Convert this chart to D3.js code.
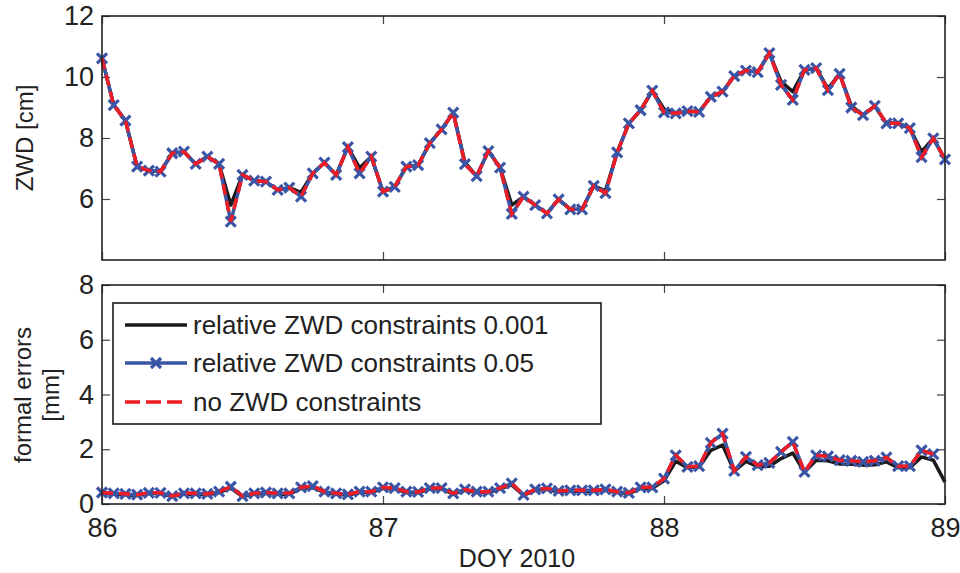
<!DOCTYPE html>
<html>
<head>
<meta charset="utf-8">
<script src="https://cdn.jsdelivr.net/npm/d3@7"></script>
<style>
  body { margin: 0; background: #fff; }
  text { font-family: "Liberation Sans", Arial, sans-serif; fill: #222; }
</style>
</head>
<body>
<script>
var w = 960;
var h = 573;
var svg;

// hourly epochs, DOY 86.0 .. 89.0
var hours = d3.range(0, 73);

// ZWD [cm]
var zwd001 = [10.61, 9.08, 8.57, 7.06, 6.93, 6.90, 7.50, 7.55, 7.15, 7.39,
              7.15, 5.80, 6.79, 6.60, 6.57, 6.30, 6.37, 6.22, 6.84, 7.19,
              6.79, 7.70, 7.02, 7.39, 6.24, 6.40, 7.06, 7.11, 7.83, 8.28,
              8.83, 7.20, 6.75, 7.57, 7.03, 5.80, 6.08, 5.80, 5.53, 5.99,
              5.66, 5.66, 6.43, 6.27, 7.53, 8.48, 8.91, 9.55, 8.95, 8.81,
              8.88, 8.86, 9.35, 9.52, 10.03, 10.21, 10.16, 10.78, 9.85, 9.52,
              10.23, 10.29, 9.62, 10.10, 9.05, 8.75, 9.05, 8.48, 8.48, 8.32,
              7.55, 7.99, 7.30];
var zwd05 = [10.61, 9.08, 8.57, 7.06, 6.93, 6.90, 7.50, 7.55, 7.15, 7.39,
             7.15, 5.26, 6.79, 6.60, 6.57, 6.30, 6.37, 6.08, 6.84, 7.19,
             6.79, 7.70, 6.84, 7.39, 6.24, 6.40, 7.06, 7.11, 7.83, 8.28,
             8.83, 7.14, 6.75, 7.57, 7.03, 5.51, 6.08, 5.80, 5.53, 5.99,
             5.66, 5.66, 6.43, 6.19, 7.53, 8.48, 8.91, 9.55, 8.84, 8.81,
             8.88, 8.86, 9.35, 9.52, 10.03, 10.21, 10.16, 10.78, 9.74, 9.25,
             10.23, 10.29, 9.57, 10.10, 9.00, 8.75, 9.05, 8.48, 8.48, 8.32,
             7.37, 7.99, 7.30];
var zwdNone = [10.61, 9.08, 8.57, 7.06, 6.93, 6.90, 7.50, 7.55, 7.15, 7.39,
               7.15, 5.26, 6.79, 6.60, 6.57, 6.30, 6.37, 6.08, 6.84, 7.19,
               6.79, 7.70, 6.84, 7.39, 6.24, 6.40, 7.06, 7.11, 7.83, 8.28,
               8.83, 7.14, 6.75, 7.57, 7.03, 5.51, 6.08, 5.80, 5.53, 5.99,
               5.66, 5.66, 6.43, 6.19, 7.53, 8.48, 8.91, 9.55, 8.84, 8.81,
               8.88, 8.86, 9.35, 9.52, 10.03, 10.21, 10.16, 10.78, 9.74, 9.25,
               10.23, 10.29, 9.57, 10.10, 9.00, 8.75, 9.05, 8.48, 8.48, 8.32,
               7.37, 7.99, 7.30];

// formal errors [mm]
var err001 = [0.39, 0.36, 0.34, 0.31, 0.38, 0.38, 0.27, 0.36, 0.36, 0.34,
              0.42, 0.58, 0.27, 0.36, 0.39, 0.36, 0.36, 0.57, 0.60, 0.42,
              0.36, 0.33, 0.42, 0.42, 0.57, 0.55, 0.42, 0.41, 0.55, 0.55,
              0.36, 0.50, 0.42, 0.42, 0.55, 0.70, 0.31, 0.50, 0.54, 0.45,
              0.47, 0.47, 0.47, 0.50, 0.42, 0.38, 0.57, 0.57, 0.85, 1.56,
              1.33, 1.35, 1.96, 2.15, 1.20, 1.56, 1.36, 1.38, 1.66, 1.86,
              1.17, 1.60, 1.58, 1.46, 1.45, 1.42, 1.43, 1.54, 1.33, 1.33,
              1.72, 1.60, 0.80];
var err05 = [0.42, 0.39, 0.37, 0.34, 0.41, 0.41, 0.29, 0.39, 0.39, 0.37,
             0.45, 0.63, 0.29, 0.39, 0.42, 0.39, 0.39, 0.61, 0.65, 0.45,
             0.39, 0.35, 0.45, 0.45, 0.61, 0.58, 0.45, 0.44, 0.58, 0.58,
             0.39, 0.53, 0.45, 0.45, 0.58, 0.75, 0.33, 0.53, 0.57, 0.48,
             0.50, 0.50, 0.50, 0.53, 0.45, 0.41, 0.61, 0.61, 0.93, 1.78,
             1.36, 1.38, 2.23, 2.57, 1.21, 1.72, 1.42, 1.50, 1.90, 2.27,
             1.17, 1.78, 1.74, 1.60, 1.58, 1.54, 1.58, 1.70, 1.38, 1.38,
             1.96, 1.82, null];
var errNone = [0.42, 0.39, 0.37, 0.34, 0.41, 0.41, 0.29, 0.39, 0.39, 0.37,
               0.45, 0.63, 0.29, 0.39, 0.42, 0.39, 0.39, 0.61, 0.65, 0.45,
               0.39, 0.35, 0.45, 0.45, 0.61, 0.58, 0.45, 0.44, 0.58, 0.58,
               0.39, 0.53, 0.45, 0.45, 0.58, 0.75, 0.33, 0.53, 0.57, 0.48,
               0.50, 0.50, 0.50, 0.53, 0.45, 0.41, 0.61, 0.61, 0.93, 1.78,
               1.36, 1.38, 2.23, 2.57, 1.21, 1.72, 1.42, 1.50, 1.90, 2.27,
               1.17, 1.78, 1.74, 1.60, 1.58, 1.54, 1.58, 1.70, 1.38, 1.38,
               1.96, 1.82, null];

var xTicks = [86, 87, 88, 89];
var zwdTicks = [6, 8, 10, 12];
var errTicks = [0, 2, 4, 6, 8];
var legendNames = ["relative ZWD constraints 0.001", "relative ZWD constraints 0.05", "no ZWD constraints"];

var black = "#1a1a1a";
var blue = "#3a55a6";
var red = "#ee1c25";
var font = '"Liberation Sans", Arial, sans-serif';
var cross = "M-5,-5L5,5M-5,5L5,-5";

var left = 102, right = 945;

drawContent();

function drawContent(){
    svg = d3.select("body")
        .append("svg")
        .attr("width", w)
        .attr("height", h);

    var x = d3.scaleLinear().domain([86, 89]).range([left, right]);

    panel(x, [4, 12], 16, 260, zwdTicks, false, [zwd001, zwd05, zwdNone]);
    panel(x, [0, 8], 285, 504, errTicks, true, [err001, err05, errNone]);

    //----axis labels-----
    svg.append("text")
        .text("ZWD [cm]")
        .attr("transform", "translate(33,138) rotate(-90)")
        .attr("text-anchor", "middle")
        .attr("font-size", 24);

    svg.append("text")
        .text("formal errors")
        .attr("transform", "translate(31,395) rotate(-90)")
        .attr("text-anchor", "middle")
        .attr("font-size", 24);

    svg.append("text")
        .text("[mm]")
        .attr("transform", "translate(59,395) rotate(-90)")
        .attr("text-anchor", "middle")
        .attr("font-size", 24);

    svg.append("text")
        .text("DOY 2010")
        .attr("x", 517)
        .attr("y", 567)
        .attr("text-anchor", "middle")
        .attr("font-size", 25);

    //----legend-----
    var lg = svg.append("g");
    lg.append("rect")
        .attr("x", 113)
        .attr("y", 303)
        .attr("width", 488)
        .attr("height", 121)
        .attr("fill", "#fff")
        .attr("stroke", black)
        .attr("stroke-width", 1.6);

    var rowY = [325, 363, 402];
    var styles = [
        {c: black, dash: null, mark: false},
        {c: blue, dash: null, mark: true},
        {c: red, dash: "15,6", mark: false}
    ];
    legendNames.forEach(function(name, k){
        lg.append("line")
            .attr("x1", 125).attr("x2", 187)
            .attr("y1", rowY[k]).attr("y2", rowY[k])
            .attr("stroke", styles[k].c)
            .attr("stroke-width", 3.5)
            .attr("stroke-dasharray", styles[k].dash);
        if (styles[k].mark) {
            lg.append("path")
                .attr("d", cross)
                .attr("transform", "translate(156," + rowY[k] + ")")
                .attr("stroke", blue)
                .attr("stroke-width", 3.2);
        }
        lg.append("text")
            .text(name)
            .attr("x", 193)
            .attr("y", rowY[k] + 9)
            .attr("font-size", 26);
    });
}

function panel(x, dom, y0, y1, ticks, showX, series){
    var y = d3.scaleLinear().domain(dom).range([y1, y0]);
    var g = svg.append("g");

    //---ticks-----
    var ax = g.append("g")
        .attr("transform", "translate(" + left + ",0)")
        .call(d3.axisLeft(y).tickValues(ticks).tickSizeInner(-8).tickSizeOuter(0).tickPadding(8));
    ax.selectAll("text").attr("font-size", 27).attr("font-family", font).attr("fill", "#222");

    g.append("g")
        .attr("transform", "translate(" + right + ",0)")
        .call(d3.axisRight(y).tickValues(ticks).tickSizeInner(-8).tickSizeOuter(0).tickFormat(""));

    g.append("g")
        .attr("transform", "translate(0," + y0 + ")")
        .call(d3.axisTop(x).tickValues(xTicks).tickSizeInner(-8).tickSizeOuter(0).tickFormat(""));

    var bx = g.append("g")
        .attr("transform", "translate(0," + y1 + ")")
        .call(d3.axisBottom(x).tickValues(xTicks).tickSizeInner(-8).tickSizeOuter(0).tickPadding(14)
              .tickFormat(showX ? d3.format("d") : ""));
    bx.selectAll("text").attr("font-size", 27).attr("font-family", font).attr("fill", "#222");

    g.selectAll(".domain").remove();
    g.selectAll(".tick line").attr("stroke", "#444").attr("stroke-width", 1.2);

    //---lines-----
    var idx = hours.map(function(d, i){ return i; });
    var line = function(vals){
        return d3.line()
            .defined(function(i){ return vals[i] != null; })
            .x(function(i){ return x(86 + hours[i] / 24); })
            .y(function(i){ return y(vals[i]); })(idx);
    };

    g.append("path")
        .attr("d", line(series[0]))
        .attr("fill", "none")
        .attr("stroke", black)
        .attr("stroke-width", 3.5)
        .attr("stroke-linejoin", "round");

    g.append("path")
        .attr("d", line(series[1]))
        .attr("fill", "none")
        .attr("stroke", blue)
        .attr("stroke-width", 3.5)
        .attr("stroke-linejoin", "round");

    g.selectAll(".mk")
        .data(idx.filter(function(i){ return series[1][i] != null; }))
        .enter()
        .append("path")
        .attr("d", cross)
        .attr("transform", function(i){
            return "translate(" + x(86 + hours[i] / 24) + "," + y(series[1][i]) + ")";
        })
        .attr("stroke", blue)
        .attr("stroke-width", 3.2);

    g.append("path")
        .attr("d", line(series[2]))
        .attr("fill", "none")
        .attr("stroke", red)
        .attr("stroke-width", 3.5)
        .attr("stroke-dasharray", "11,6");

    //---frame-----
    g.append("rect")
        .attr("x", left)
        .attr("y", y0)
        .attr("width", right - left)
        .attr("height", y1 - y0)
        .attr("fill", "none")
        .attr("stroke", "#222")
        .attr("stroke-width", 1.6);

    return y;
}
</script>
</body>
</html>
